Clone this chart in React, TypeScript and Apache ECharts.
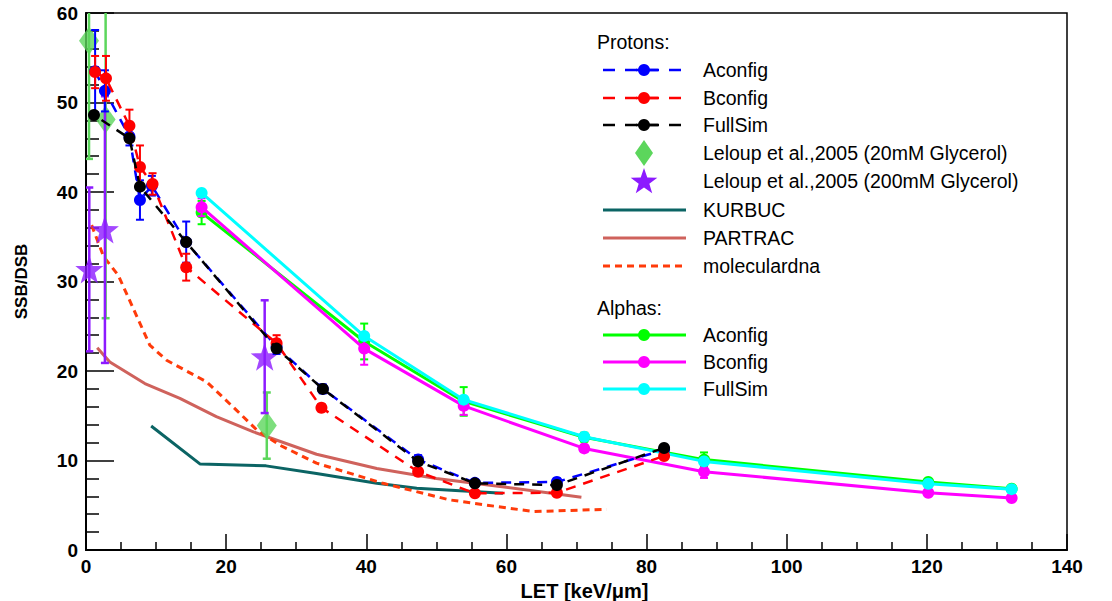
import React, { useEffect, useRef } from "react";
import * as echarts from "echarts";

// ---------- Data ----------
const protonAconfigX = [1.3, 2.7, 6.2, 7.7, 9.4, 14.3, 27.2, 33.8, 47.4, 55.5, 67.2, 82.5];
const protonAconfigY = [53.5, 51.3, 46.2, 39.1, 40.7, 34.4, 22.7, 18.0, 10.1, 7.5, 7.6, 11.2];
const protonAconfigErr = [4.6, 2.3, 1.0, 2.2, 1.1, 2.3, 0.8, 0.5, 0.5, 0.4, 0.4, 0.4];

const protonBconfigX = [1.3, 2.85, 6.2, 7.7, 9.5, 14.3, 27.2, 33.6, 47.4, 55.5, 67.2, 82.5];
const protonBconfigY = [53.4, 52.7, 47.4, 42.8, 40.9, 31.6, 23.1, 15.9, 8.75, 6.33, 6.4, 10.5];
const protonBconfigErr = [1.8, 2.5, 1.8, 2.4, 1.2, 1.5, 0.9, 0.4, 0.4, 0.3, 0.3, 0.3];

const protonFullSimX = [1.14, 6.2, 7.7, 14.3, 27.2, 33.8, 47.4, 55.5, 67.2, 82.5];
const protonFullSimY = [48.6, 46.0, 40.6, 34.4, 22.5, 18.0, 9.9, 7.45, 7.26, 11.4];

const leloup20X = [0.43, 2.8, 25.8];
const leloup20Y = [56.9, 48.1, 13.9];
const leloup20Err = [13.2, 22.2, 3.7];

const leloup200X = [0.47, 2.7, 25.5];
const leloup200Y = [31.35, 35.8, 21.6];
const leloup200Err = [9.15, 14.9, 6.3];

const kurbucX = [9.3, 16.3, 25.7, 32.9, 41.5, 47.2, 59.5];
const kurbucY = [13.85, 9.6, 9.4, 8.55, 7.45, 6.9, 6.35];

const partracX = [1.6, 3.4, 8.4, 13.4, 18.6, 23.9, 32.9, 41.5, 50.0, 59.1, 70.7];
const partracY = [22.6, 21.0, 18.6, 16.95, 14.9, 13.2, 10.7, 9.1, 8.0, 7.1, 5.9];

const molecularX = [0.8, 2.5, 4.6, 9.1, 11.5, 17.2, 21.5, 24.4, 27.7, 32.9, 42.4, 51.9, 60.5, 64.0, 74.3];
const molecularY = [36.3, 32.8, 30.7, 22.9, 21.2, 18.8, 15.6, 13.4, 11.7, 9.7, 7.45, 5.6, 4.65, 4.3, 4.55];

const alphaX = [16.5, 39.7, 53.9, 71.1, 88.2, 120.2, 132.1];
const alphaAconfigY = [37.7, 23.3, 16.6, 12.6, 10.1, 7.6, 6.85];
const alphaAconfigErr = [1.3, 2.0, 1.6, 0.5, 0.8, 0.3, 0.3];
const alphaBconfigY = [38.3, 22.5, 16.1, 11.35, 8.75, 6.4, 5.8];
const alphaBconfigErr = [1.0, 1.8, 1.0, 0.4, 0.7, 0.3, 0.3];
const alphaFullSimY = [39.9, 23.9, 16.8, 12.65, 9.9, 7.4, 6.8];
const alphaFullSimErr = [0.3, 0.3, 0.3, 0.3, 0.3, 0.3, 0.3];

const xTicks = { min: 0, max: 140, interval: 20 };
const yTicks = { min: 0, max: 60, interval: 10 };

const protonLegend = ["Aconfig", "Bconfig", "FullSim", "Leloup et al.,2005 (20mM Glycerol)", "Leloup et al.,2005 (200mM Glycerol)", "KURBUC", "PARTRAC", "moleculardna"];
const alphaLegend = ["Aconfig", "Bconfig", "FullSim"];

// ---------- Styles ----------
const C = {
  blue: "#0000ff",
  red: "#ff0000",
  black: "#000000",
  green20: "#5cd65c",
  violet: "#8c1aff",
  teal: "#0b6464",
  partrac: "#cf625c",
  molec: "#ff3b0a",
  aGreen: "#00ff00",
  aMagenta: "#ff00ff",
  aCyan: "#00ffff",
};
const FONT = "'Liberation Sans', Arial, Helvetica, sans-serif";
const STAR =
  "path://M0,-10 L2.35,-3.24 L9.51,-3.09 L3.8,1.24 L5.88,8.09 L0,4 L-5.88,8.09 L-3.8,1.24 L-9.51,-3.09 L-2.35,-3.24 Z";

const zip = (xs: number[], ys: number[]) => xs.map((x, i) => [x, ys[i]]);

function errorBars(xs: number[], ys: number[], errs: number[], color: string, z: number, width = 2) {
  return {
    type: "custom",
    z,
    clip: true,
    silent: true,
    data: xs.map((x, i) => [x, ys[i] - errs[i], ys[i] + errs[i]]),
    encode: { x: 0, y: [1, 2] },
    renderItem: (_p: any, api: any) => {
      const lo = api.coord([api.value(0), api.value(1)]);
      const hi = api.coord([api.value(0), api.value(2)]);
      const cw = 4;
      const style = { stroke: color, lineWidth: width };
      return {
        type: "group",
        children: [
          { type: "line", shape: { x1: lo[0], y1: lo[1], x2: hi[0], y2: hi[1] }, style },
          { type: "line", shape: { x1: lo[0] - cw, y1: lo[1], x2: lo[0] + cw, y2: lo[1] }, style },
          { type: "line", shape: { x1: hi[0] - cw, y1: hi[1], x2: hi[0] + cw, y2: hi[1] }, style },
        ],
      };
    },
  };
}

function lineSeries(name: string, xs: number[], ys: number[], color: string, z: number, dash: any, width: number, symbol = true, dashOffset = 0) {
  return {
    type: "line",
    name,
    z,
    data: zip(xs, ys),
    symbol: symbol ? "circle" : "none",
    symbolSize: 12,
    showSymbol: symbol,
    itemStyle: { color },
    lineStyle: { color, width, type: dash, dashOffset },
    smooth: false,
    clip: true,
  };
}

function starPoints(cx: number, cy: number, r: number) {
  const pts: number[][] = [];
  for (let i = 0; i < 10; i++) {
    const rr = i % 2 === 0 ? r : r * 0.4;
    const a = -Math.PI / 2 + (i * Math.PI) / 5;
    pts.push([cx + rr * Math.cos(a), cy + rr * Math.sin(a)]);
  }
  return pts;
}

function buildLegend() {
  const els: any[] = [];
  const x1 = 603, x2 = 684, mx = 644, tx = 703;
  const txt = (t: string, x: number, y: number) => ({
    type: "text",
    x,
    y,
    style: { text: t, font: `19.5px ${FONT}`, fill: "#000", textVerticalAlign: "middle", verticalAlign: "middle" },
    z: 100,
  });
  els.push(txt("Protons:", 597, 42));
  const pRows = [70, 98, 125, 153, 181, 210, 238, 266];
  const pStyles = [
    { kind: "dashMarker", color: C.blue },
    { kind: "dashMarker", color: C.red },
    { kind: "dashMarker", color: C.black },
    { kind: "diamond", color: C.green20 },
    { kind: "star", color: C.violet },
    { kind: "solid", color: C.teal },
    { kind: "solid", color: C.partrac },
    { kind: "dotted", color: C.molec },
  ];
  protonLegend.forEach((label, i) => {
    const y = pRows[i];
    const s = pStyles[i];
    if (s.kind === "dashMarker") {
      els.push({ type: "line", shape: { x1, y1: y, x2, y2: y }, style: { stroke: s.color, lineWidth: 2.5, lineDash: [12, 10] }, z: 100 });
      els.push({ type: "line", shape: { x1: 636, y1: y, x2: 658, y2: y }, style: { stroke: s.color, lineWidth: 2.5 }, z: 100 });
      els.push({ type: "circle", shape: { cx: mx, cy: y, r: 6 }, style: { fill: s.color }, z: 101 });
    } else if (s.kind === "diamond") {
      els.push({ type: "polygon", shape: { points: [[mx, y - 13], [mx + 9, y], [mx, y + 13], [mx - 9, y]] }, style: { fill: s.color }, z: 100 });
    } else if (s.kind === "star") {
      els.push({ type: "polygon", shape: { points: starPoints(mx, y + 1, 14) }, style: { fill: s.color }, z: 100 });
    } else if (s.kind === "solid") {
      els.push({ type: "line", shape: { x1, y1: y, x2: x2 + 2, y2: y }, style: { stroke: s.color, lineWidth: 3 }, z: 100 });
    } else {
      els.push({ type: "line", shape: { x1, y1: y, x2: x2 + 2, y2: y }, style: { stroke: s.color, lineWidth: 3, lineDash: [7, 5] }, z: 100 });
    }
    els.push(txt(label, tx, y));
  });
  els.push(txt("Alphas:", 597, 308));
  const aRows = [335, 362, 389];
  const aColors = [C.aGreen, C.aMagenta, C.aCyan];
  alphaLegend.forEach((label, i) => {
    const y = aRows[i];
    els.push({ type: "line", shape: { x1, y1: y, x2: x2 + 2, y2: y }, style: { stroke: aColors[i], lineWidth: 3 }, z: 100 });
    els.push({ type: "circle", shape: { cx: mx, cy: y, r: 6 }, style: { fill: aColors[i] }, z: 101 });
    els.push(txt(label, tx, y));
  });
  return els;
}

export default function App() {
  const ref = useRef<HTMLDivElement>(null);
  useEffect(() => {
    if (!ref.current) return;
    const chart = echarts.init(ref.current, undefined, { renderer: "svg" });
    const option: any = {
      animation: false,
      backgroundColor: "#ffffff",
      grid: {
        left: 86, right: 45, top: 13, bottom: 51,
        containLabel: false,
        outerBoundsMode: "none",
        show: true, borderColor: "#000", borderWidth: 1.5, backgroundColor: "transparent",
      },
      xAxis: {
        type: "value",
        min: xTicks.min,
        max: xTicks.max,
        interval: xTicks.interval,
        name: "LET [keV/\u03bcm]",
        nameLocation: "middle",
        nameGap: 26,
        nameTextStyle: { fontFamily: FONT, fontWeight: "bold", fontSize: 20, lineHeight: 20, color: "#000", padding: [0, 0, 0, 16] },
        axisLine: { show: true, onZero: false, lineStyle: { color: "#000", width: 2 } },
        axisTick: { show: true, inside: true, length: 16, lineStyle: { color: "#000", width: 1.5 } },
        minorTick: { show: true, splitNumber: 4, length: 8, lineStyle: { color: "#000", width: 1.5 } },
        splitLine: { show: false },
        axisLabel: { fontFamily: FONT, fontWeight: "bold", fontSize: 19, color: "#000", margin: 7 },
      },
      yAxis: {
        type: "value",
        min: yTicks.min,
        max: yTicks.max,
        interval: yTicks.interval,
        name: "SSB/DSB",
        nameLocation: "middle",
        nameGap: 56,
        nameTextStyle: { fontFamily: FONT, fontWeight: "bold", fontSize: 17, color: "#000" },
        axisLine: { show: true, onZero: false, lineStyle: { color: "#000", width: 2 } },
        axisTick: { show: true, inside: true, length: 28, lineStyle: { color: "#000", width: 1.5 } },
        minorTick: { show: true, splitNumber: 5, length: 13, lineStyle: { color: "#000", width: 1.5 } },
        splitLine: { show: false },
        axisLabel: { fontFamily: FONT, fontWeight: "bold", fontSize: 19, color: "#000", margin: 8 },
      },
      graphic: buildLegend(),
      series: [
        // theory curves
        lineSeries("KURBUC", kurbucX, kurbucY, C.teal, 2, "solid", 3, false),
        lineSeries("PARTRAC", partracX, partracY, C.partrac, 2, "solid", 3, false),
        lineSeries("moleculardna", molecularX, molecularY, C.molec, 2, [7, 5], 3, false),
        // alphas
        errorBars(alphaX, alphaAconfigY, alphaAconfigErr, C.aGreen, 3),
        lineSeries("Alphas Aconfig", alphaX, alphaAconfigY, C.aGreen, 3, "solid", 3),
        errorBars(alphaX, alphaBconfigY, alphaBconfigErr, C.aMagenta, 4),
        lineSeries("Alphas Bconfig", alphaX, alphaBconfigY, C.aMagenta, 4, "solid", 3),
        errorBars(alphaX, alphaFullSimY, alphaFullSimErr, C.aCyan, 5),
        lineSeries("Alphas FullSim", alphaX, alphaFullSimY, C.aCyan, 5, "solid", 3),
        // experiments
        errorBars(leloup20X, leloup20Y, leloup20Err, C.green20, 6, 2.5),
        {
          type: "scatter",
          name: "Leloup 20mM",
          z: 6,
          data: zip(leloup20X, leloup20Y),
          symbol: "diamond",
          symbolSize: [20, 28],
          itemStyle: { color: C.green20 },
        },
        errorBars(leloup200X, leloup200Y, leloup200Err, C.violet, 7, 2.5),
        {
          type: "scatter",
          name: "Leloup 200mM",
          z: 7,
          data: zip(leloup200X, leloup200Y),
          symbol: STAR,
          symbolSize: 28,
          itemStyle: { color: C.violet },
        },
        // protons
        errorBars(protonAconfigX, protonAconfigY, protonAconfigErr, C.blue, 8),
        lineSeries("Protons Aconfig", protonAconfigX, protonAconfigY, C.blue, 8, [10, 8], 2.5),
        errorBars(protonBconfigX, protonBconfigY, protonBconfigErr, C.red, 9),
        lineSeries("Protons Bconfig", protonBconfigX, protonBconfigY, C.red, 9, [10, 8], 2.5),
        lineSeries("Protons FullSim", protonFullSimX, protonFullSimY, C.black, 10, [10, 8], 2.5, true, 9),
      ],
    };
    chart.setOption(option);
    return () => chart.dispose();
  }, []);
  return <div ref={ref} style={{ position: "fixed", left: 0, top: 0, width: 1112, height: 601, background: "#fff" }} />;
}
